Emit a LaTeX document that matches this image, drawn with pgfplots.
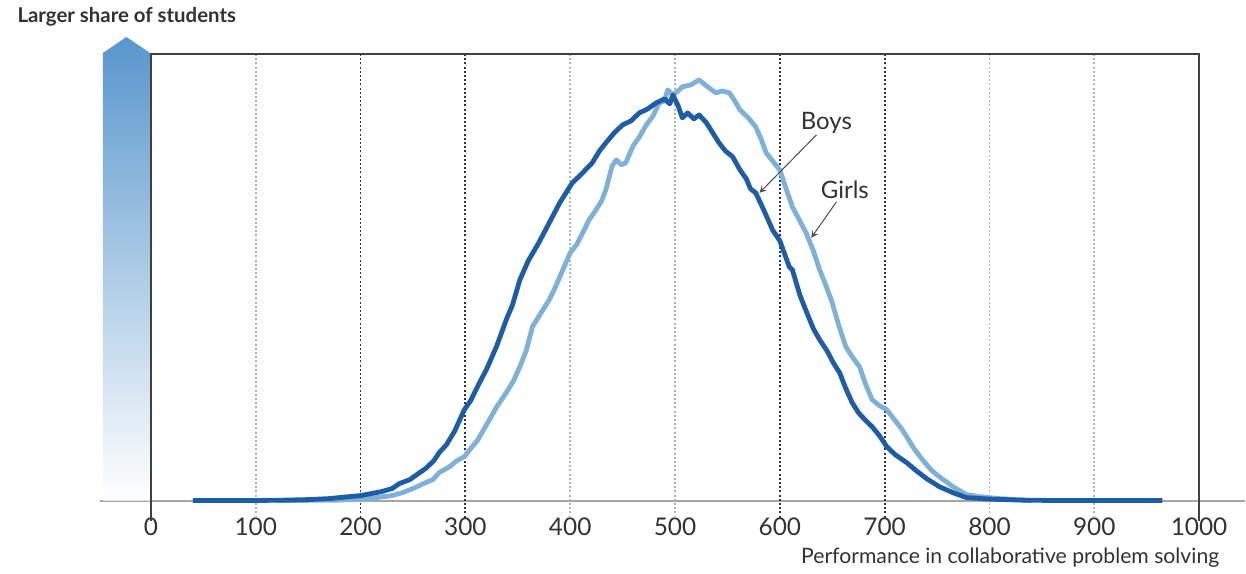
\documentclass[border=0pt]{standalone}
\usepackage{pgfplots}
\pgfplotsset{compat=1.18}
\usepackage{fontspec}
\setmainfont{Lato}
\definecolor{boys}{RGB}{29,92,166}
\definecolor{girls}{RGB}{125,177,218}
\definecolor{arrtop}{RGB}{88,150,204}
\definecolor{txt}{RGB}{50,50,50}
\begin{document}
\begin{tikzpicture}
\begin{axis}[
  x=0.5245pt, y=0.5pt,
  xmin=-48.6, xmax=1043.8, ymin=-20, ymax=470,
  clip=false,
  axis x line*=middle, axis y line=none,
  hide obscured x ticks=false,
  x axis line style={draw=gray!70, line width=1pt},
  xtick={0,100,...,1000},
  major tick length=0pt,
  xticklabel style={font=\fontsize{12.2}{14}\selectfont, text=txt, yshift=-5pt},
  /pgf/number format/assume math mode=true,
  /pgf/number format/1000 sep={},
]
% gradient arrow
\shade[top color=arrtop, bottom color=white, draw=none]
  (axis cs:-45.8,0) -- (axis cs:-45.8,448) -- (axis cs:-23.4,464) -- (axis cs:-1,448) -- (axis cs:-1,0) -- cycle;
% grid lines
\pgfplotsinvokeforeach{100,400,500,800,900}{
  \draw[gray!60, line width=0.9pt, dash pattern=on 1pt off 1.1pt] (axis cs:#1,-17) -- (axis cs:#1,447);
}
\pgfplotsinvokeforeach{200,300,600,700}{
  \draw[black!80, line width=0.9pt, dash pattern=on 1pt off 1.1pt] (axis cs:#1,-17) -- (axis cs:#1,447);
}
% frame
\draw[black!75, line width=0.8pt] (axis cs:0,-20) -- (axis cs:0,447) -- (axis cs:1000,447) -- (axis cs:1000,-20);
\addplot[girls, line width=2.4pt, line join=round] coordinates {
(120,0) (180,0.5) (200,1.5) (215,3) (230,5) (240,8) (250,12) (260,17) (269,21) (275,28)
(285,34) (292,40) (299,44) (305,52) (312,61) (318,72) (323,81) (330,94) (339,108) (346,120)
(352,134) (358,150) (364,174) (371,186) (380,201) (386,214) (393,231) (400,248) (406,256) (412,268)
(418,281) (424,290) (430,300) (434,311) (440,335) (444,341) (449,336) (453,338) (460,355) (466,364)
(472,375) (479,385) (485,398) (490,400) (493,411) (498,406) (503,410) (507,414) (515,416) (523,421)
(530,415) (539,408) (545,410) (552,408) (557,400) (562,391) (570,383) (577,374) (582,362) (587,348)
(593,340) (600,331) (606,312) (612,294) (618,282) (625,268) (632,250) (638,231) (644,215) (650,198)
(656,176) (663,154) (669,144) (676,134) (682,116) (688,101) (695,95) (702,91) (710,80) (716,72)
(721,64) (728,52) (736,41) (745,30) (752,24) (765,14) (778,6) (790,4) (809,2) (825,1) (840,0)
};
\addplot[boys, line width=2.4pt, line join=round] coordinates {
(40,0) (80,0) (120,0.3) (150,1) (170,2) (190,4) (200,5) (210,7) (220,9) (230,12)
(237,17) (247,21) (255,27) (262,32) (270,40) (275,48) (282,56) (290,70) (299,91) (305,100)
(312,115) (320,131) (330,155) (339,181) (345,196) (352,221) (360,240) (370,258) (380,278) (390,298)
(402,318) (410,326) (421,338) (428,350) (434,358) (442,368) (450,376) (458,380) (466,388) (474,392)
(482,398) (490,402) (495,397) (498,406) (503,395) (507,383) (512,388) (518,382) (523,386) (530,378)
(536,368) (542,358) (548,350) (555,344) (562,331) (568,322) (572,312) (577,308) (585,290) (593,271)
(600,260) (609,234) (612,231) (619,206) (625,190) (632,172) (638,161) (645,150) (651,138) (657,128)
(663,112) (669,98) (675,88) (682,80) (688,74) (695,65) (702,54) (710,46) (721,38) (730,30)
(740,22) (752,14) (765,8) (778,3) (800,1.5) (830,0.5) (870,0) (920,0) (965,0)
};
% labels
\node[font=\fontsize{12}{14}\selectfont, text=txt] at (axis cs:644.4,378) {Boys};
\node[font=\fontsize{12}{14}\selectfont, text=txt] at (axis cs:662,311) {Girls};
\draw[-stealth, black!70, line width=0.5pt] (axis cs:634.9,366) -- (axis cs:580.6,308);
\draw[-stealth, black!70, line width=0.5pt] (axis cs:654,299) -- (axis cs:630,263);
\node[font=\bfseries\fontsize{10.2}{12}\selectfont, text=txt, anchor=west] at (axis cs:-134,484) {Larger share of students};
\node[font=\fontsize{10.6}{12}\selectfont, text=txt, anchor=east] at (axis cs:1026,-57) {Performance in collaborative problem solving};
% page extent
\path (axis cs:-144,501) rectangle (axis cs:1043.8,-71);
\end{axis}
\end{tikzpicture}
\end{document}
